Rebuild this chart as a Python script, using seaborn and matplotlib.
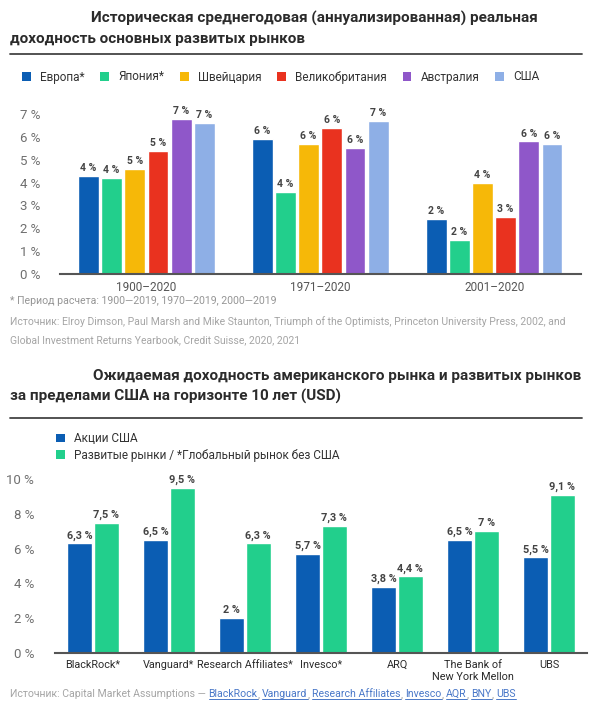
import math
import matplotlib
matplotlib.use("Agg")
import matplotlib.pyplot as plt
from matplotlib.patches import Patch
from matplotlib.lines import Line2D
import pandas as pd
import seaborn as sns

# ---------------- data ----------------
periods = ["1900–2020", "1971–2020", "2001–2020"]
markets = ["Европа*", "Япония*", "Швейцария", "Великобритания", "Австралия", "США"]
europe = [4.3, 5.9, 2.4]
japan = [4.2, 3.6, 1.5]
switzerland = [4.6, 5.7, 4.0]
uk = [5.4, 6.4, 2.5]
australia = [6.8, 5.5, 5.8]
usa = [6.6, 6.7, 5.7]
top_ticks = [0, 1, 2, 3, 4, 5, 6, 7]

providers = ["BlackRock*", "Vanguard*", "Research Affiliates*", "Invesco*", "ARQ",
             "The Bank of\nNew York Mellon", "UBS"]
series2 = ["Акции США", "Развитые рынки / *Глобальный рынок без США"]
us_equity = [6.3, 6.5, 2.0, 5.7, 3.8, 6.5, 5.5]
dev_markets = [7.5, 9.5, 6.3, 7.3, 4.4, 7.0, 9.1]
bottom_ticks = [0, 2, 4, 6, 8, 10]

top_colors = ["#0b5db3", "#22cf8c", "#f6b808", "#e9321f", "#8f57c9", "#8eafe6"]
bottom_colors = ["#0b5db3", "#22cf8c"]

W, H = 590, 708
sns.set_theme(style="white")
plt.rcParams["font.family"] = ["Roboto", "DejaVu Sans"]

fig = plt.figure(figsize=(W / 100, H / 100), dpi=100)
fig.patch.set_facecolor("white")


def fx(px):
    return px / W


def fy(py):
    return 1 - py / H


TITLE_C = "#2b2b2b"

# ---------------- top chart ----------------
fig.text(fx(91), fy(18), "Историческая среднегодовая (аннуализированная) реальная",
         fontsize=11, weight="bold", color=TITLE_C, va="center", ha="left")
fig.text(fx(10), fy(39), "доходность основных развитых рынков",
         fontsize=11, weight="bold", color=TITLE_C, va="center", ha="left")
fig.add_artist(Line2D([fx(10), fx(582)], [fy(54), fy(54)], color="#444444", lw=1.3))

top_series = [europe, japan, switzerland, uk, australia, usa]
df1 = pd.DataFrame({
    "period": [p for s in top_series for p in periods],
    "market": [m for m, s in zip(markets, top_series) for _ in s],
    "value": [v for s in top_series for v in s],
})

ax1 = fig.add_axes([fx(59.5), fy(274), fx(581) - fx(59.5), 7.5 * 22.86 / H])
sns.barplot(data=df1, x="period", y="value", hue="market", order=periods,
            hue_order=markets, palette=dict(zip(markets, top_colors)),
            width=0.8, gap=0.1, saturation=1, ax=ax1, legend=False)
ax1.set_ylim(0, 7.5)
ax1.set_yticks(top_ticks)
ax1.set_yticklabels([f"{t} %" for t in top_ticks])
ax1.set_xlabel("")
ax1.set_ylabel("")
for sp in ["top", "left", "right"]:
    ax1.spines[sp].set_visible(False)
ax1.spines["bottom"].set_color("#555555")
ax1.spines["bottom"].set_linewidth(1.5)
ax1.tick_params(axis="y", length=0, pad=14, labelsize=9.5, labelcolor="#6f6f6f")
ax1.tick_params(axis="x", length=0, pad=5, labelsize=8.5, labelcolor="#555555")
ax1.grid(False)
ax1.set_xlim(-0.5, len(periods) - 0.5)
for cont, s in zip(ax1.containers, top_series):
    ax1.bar_label(cont, labels=[f"{int(math.floor(v + 0.5))} %" for v in s],
                  padding=2, fontsize=7.5, color="#444444", weight="bold")

handles1 = [Patch(facecolor=c, edgecolor="none") for c in top_colors]
fig.legend(handles1, markets, loc="center left", bbox_to_anchor=(fx(22), fy(77)),
           ncol=6, frameon=False, fontsize=8.5, handlelength=0.75, handleheight=0.75,
           handletextpad=0.8, columnspacing=1.3, labelcolor="#333333",
           borderaxespad=0, borderpad=0)

fig.text(fx(10), fy(301), "* Период расчета: 1900—2019, 1970—2019, 2000—2019",
         fontsize=7.6, color="#959595", va="center", ha="left")
fig.text(fx(10), fy(322),
         "Источник: Elroy Dimson, Paul Marsh and Mike Staunton, Triumph of the Optimists, "
         "Princeton University Press, 2002, and",
         fontsize=7.5, color="#a5a5a5", va="center", ha="left")
fig.text(fx(10), fy(340), "Global Investment Returns Yearbook, Credit Suisse, 2020, 2021",
         fontsize=7.5, color="#a5a5a5", va="center", ha="left")

# ---------------- bottom chart ----------------
fig.text(fx(93), fy(376), "Ожидаемая доходность американского рынка и развитых рынков",
         fontsize=11, weight="bold", color=TITLE_C, va="center", ha="left")
fig.text(fx(10), fy(396), "за пределами США на горизонте 10 лет (USD)",
         fontsize=11, weight="bold", color=TITLE_C, va="center", ha="left")
fig.add_artist(Line2D([fx(10), fx(582)], [fy(418), fy(418)], color="#444444", lw=1.3))

handles2 = [Patch(facecolor=c, edgecolor="none") for c in bottom_colors]
fig.legend(handles2, series2, loc="upper left", bbox_to_anchor=(fx(56), fy(432)),
           ncol=1, frameon=False, fontsize=8.5, handlelength=0.75, handleheight=0.75,
           handletextpad=0.8, labelspacing=0.3, labelcolor="#333333",
           borderaxespad=0, borderpad=0)

df2 = pd.DataFrame({
    "provider": providers * 2,
    "series": [series2[0]] * len(providers) + [series2[1]] * len(providers),
    "value": us_equity + dev_markets,
})
ax2 = fig.add_axes([fx(55), fy(653), fx(587) - fx(55), 10.5 * 17.4 / H])
sns.barplot(data=df2, x="provider", y="value", hue="series", order=providers,
            hue_order=series2, palette=dict(zip(series2, bottom_colors)),
            width=0.7, gap=0.07, saturation=1, ax=ax2, legend=False)
ax2.set_ylim(0, 10.5)
ax2.set_yticks(bottom_ticks)
ax2.set_yticklabels([f"{t} %" for t in bottom_ticks])
ax2.set_xlabel("")
ax2.set_ylabel("")
for sp in ["top", "left", "right"]:
    ax2.spines[sp].set_visible(False)
ax2.spines["bottom"].set_color("#555555")
ax2.spines["bottom"].set_linewidth(1.5)
ax2.tick_params(axis="y", length=0, pad=15, labelsize=9.5, labelcolor="#6f6f6f")
ax2.tick_params(axis="x", length=0, pad=5, labelsize=7.8, labelcolor="#2b2b2b")
for lbl in ax2.get_xticklabels():
    lbl.set_linespacing(1.25)
ax2.grid(False)
ax2.set_xlim(-0.5, len(providers) - 0.5)
for cont, s in zip(ax2.containers, [us_equity, dev_markets]):
    ax2.bar_label(cont, labels=[f"{v:g}".replace(".", ",") + " %" for v in s],
                  padding=2, fontsize=7.8, color="#444444", weight="bold")

# source line with underlined links
runs = [("Источник: Capital Market Assumptions — ", "#a5a5a5", False)]
links = ["BlackRock", "Vanguard", "Research Affiliates", "Invesco", "AQR", "BNY", "UBS"]
for i, ln in enumerate(links):
    runs.append((ln, "#4a78c8", True))
    if i < len(links) - 1:
        runs.append((", ", "#a5a5a5", False))

renderer = fig.canvas.get_renderer()
cur = 10.0
base_y = 697
for txt, col, und in runs:
    t = fig.text(fx(cur), fy(base_y), txt, fontsize=7.6, color=col, va="baseline", ha="left")
    bb = t.get_window_extent(renderer)
    w = bb.width
    if und:
        fig.add_artist(Line2D([fx(cur), fx(cur + w)], [fy(base_y + 1.8), fy(base_y + 1.8)],
                              color=col, lw=0.7))
    cur += w

fig.savefig("out.png", dpi=100, facecolor="white")
